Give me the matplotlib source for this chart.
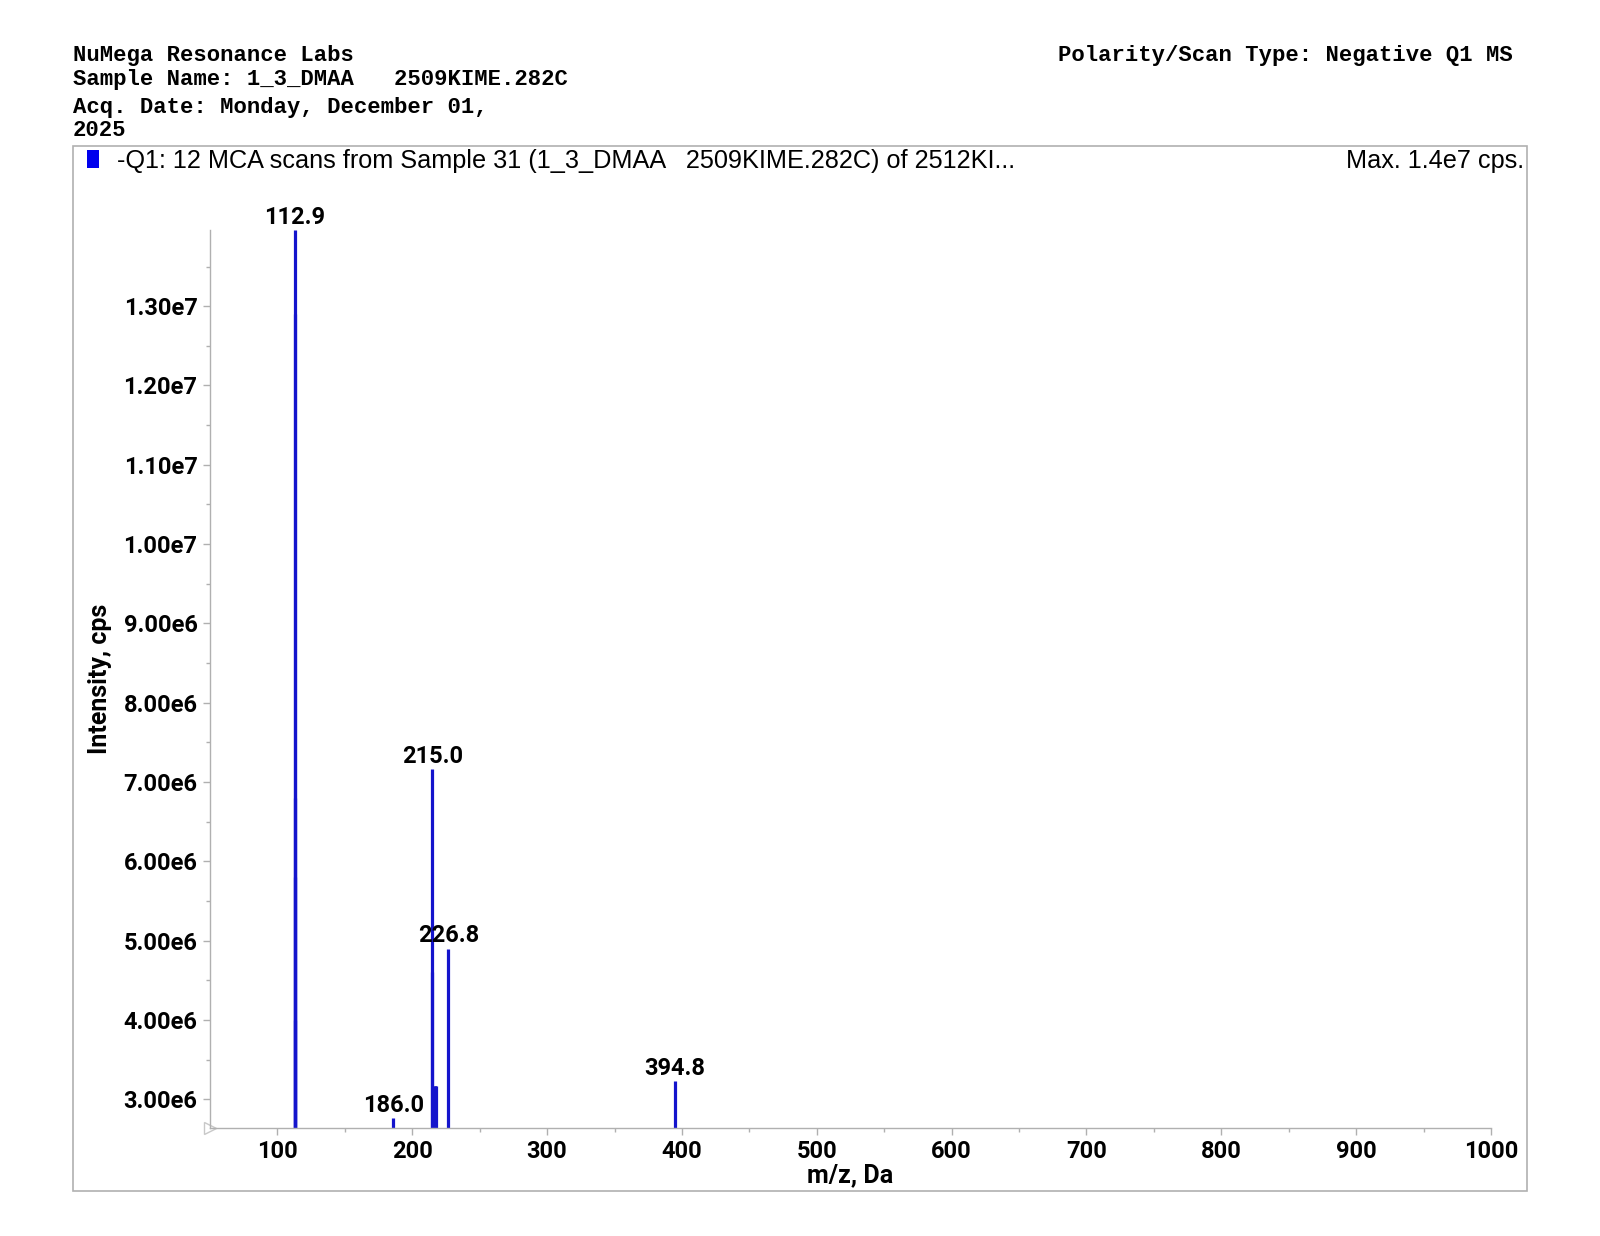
import matplotlib
matplotlib.use("Agg")
import matplotlib.pyplot as plt
from matplotlib.patches import Rectangle

# spectrum sticks (m/z, cps)
mz = [112.7, 112.8, 112.9, 113.0, 113.1, 186.0, 214.9, 215.0, 216.6, 217.0, 217.4, 226.8, 394.8]
cps = [4.0e6, 5.8e6, 1.396e7, 6.8e6, 1.29e7, 2.76e6, 4.6e6, 7.16e6, 3.17e6, 3.17e6, 3.17e6, 4.90e6, 3.23e6]

# labelled peaks
peak_mz = [112.9, 186.0, 215.0, 226.8, 394.8]
peak_cps = [1.396e7, 2.76e6, 7.16e6, 4.90e6, 3.23e6]
peak_txt = ["112.9", "186.0", "215.0", "226.8", "394.8"]

yticks = [3e6, 4e6, 5e6, 6e6, 7e6, 8e6, 9e6, 1e7, 1.1e7, 1.2e7, 1.3e7]
ytick_labels = ["3.00e6", "4.00e6", "5.00e6", "6.00e6", "7.00e6", "8.00e6",
                "9.00e6", "1.00e7", "1.10e7", "1.20e7", "1.30e7"]
xticks = [100, 200, 300, 400, 500, 600, 700, 800, 900, 1000]

ymin, ymax = 2.64e6, 1.396e7
blue = "#1414cc"
gray = "#b0b0b0"
sans = ["Roboto", "DejaVu Sans"]
mono = ["Liberation Mono", "DejaVu Sans Mono"]
narrow = ["Liberation Sans Narrow", "Liberation Sans", "DejaVu Sans"]

fig = plt.figure(figsize=(16, 12.36), dpi=100)
ax = fig.add_axes([0.13125, 0.0874, 0.8006, 0.7265])

ax.vlines(mz, ymin, cps, color=blue, linewidth=2.3)
for x, y, t in zip(peak_mz, peak_cps, peak_txt):
    ax.annotate(t, (x, y), xytext=(0, 1), textcoords="offset points",
                ha="center", va="bottom", fontsize=17, fontweight="bold",
                family=sans, annotation_clip=False)

ax.set_xlim(50, 1000)
ax.set_ylim(ymin, ymax)
ax.set_xticks(xticks)
ax.set_xticks([150, 250, 350, 450, 550, 650, 750, 850, 950], minor=True)
ax.set_yticks(yticks)
ax.set_yticklabels(ytick_labels)
ax.set_yticks([y + 5e5 for y in yticks[:-1]] + [1.35e7], minor=True)

for s in ["top", "right"]:
    ax.spines[s].set_visible(False)
for s in ["left", "bottom"]:
    ax.spines[s].set_color(gray)
    ax.spines[s].set_linewidth(1.0)
ax.tick_params(which="major", length=5, color=gray, width=1, pad=4)
ax.tick_params(which="minor", length=3, color=gray, width=1)
for lab in ax.get_xticklabels() + ax.get_yticklabels():
    lab.set_family(sans)
    lab.set_fontweight("bold")
    lab.set_fontsize(17)

ax.set_xlabel("m/z, Da", fontsize=18, fontweight="bold", family=sans, labelpad=0)
ax.set_ylabel("Intensity, cps", fontsize=18, fontweight="bold", family=sans, labelpad=8)

# small hollow triangle at the axis origin
ax.plot([50], [ymin], marker=">", markersize=9, markerfacecolor="none",
        markeredgecolor="#c8c8c8", clip_on=False)

# outer frame around plot
fig.patches.append(Rectangle((72.5 / 1600, 1 - 1191 / 1236), 1454 / 1600, 1045 / 1236,
                             transform=fig.transFigure, fill=False,
                             edgecolor=gray, linewidth=1.2))
fig.patches.append(Rectangle((87 / 1600, 1 - 168 / 1236), 12 / 1600, 18 / 1236,
                             transform=fig.transFigure, facecolor="#0000ee",
                             edgecolor="none"))

# header
hdr = dict(family=mono, fontweight="bold", fontsize=16, va="center")
fig.text(73 / 1600, 1 - 55 / 1236, "NuMega Resonance Labs", **hdr)
fig.text(73 / 1600, 1 - 79 / 1236, "Sample Name: 1_3_DMAA   2509KIME.282C", **hdr)
fig.text(73 / 1600, 1 - 107 / 1236, "Acq. Date: Monday, December 01,", **hdr)
fig.text(73 / 1600, 1 - 130 / 1236, "2025", **hdr)
fig.text(1513 / 1600, 1 - 55 / 1236, "Polarity/Scan Type: Negative Q1 MS", ha="right", **hdr)

fig.text(117 / 1600, 1 - 161 / 1236,
         "-Q1: 12 MCA scans from Sample 31 (1_3_DMAA   2509KIME.282C) of 2512KI...",
         family=narrow, fontsize=18.2, va="center")
fig.text(1524 / 1600, 1 - 161 / 1236, "Max. 1.4e7 cps.", family=narrow,
         fontsize=18.2, va="center", ha="right")

fig.savefig("out.png", dpi=100)
